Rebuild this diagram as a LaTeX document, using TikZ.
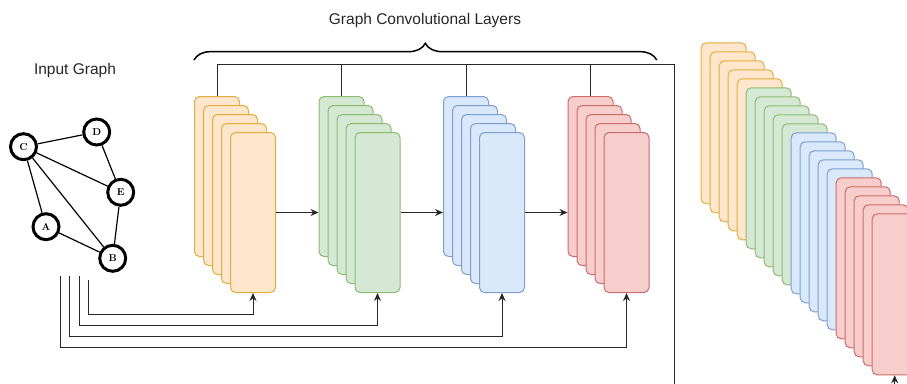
\documentclass[tikz,border=0pt]{standalone}
\usepackage{fontspec}
\setmainfont{Liberation Sans}
\newfontfamily\labelfont{Latin Modern Roman}
\usetikzlibrary{arrows.meta,decorations.pathreplacing,calc}

\definecolor{orFill}{HTML}{FFE6CC}\definecolor{orLine}{HTML}{E3AE3A}
\definecolor{grFill}{HTML}{D5E8D4}\definecolor{grLine}{HTML}{8CBB72}
\definecolor{blFill}{HTML}{DAE8FC}\definecolor{blLine}{HTML}{7E9FD0}
\definecolor{rdFill}{HTML}{F8CECC}\definecolor{rdLine}{HTML}{CC6C6A}

\tikzset{
  card/.style={draw, line width=1pt, rounded corners=5pt, anchor=north west,
    minimum width=45pt, minimum height=160pt, inner sep=0pt},
  orcard/.style={card, fill=orFill, draw=orLine},
  grcard/.style={card, fill=grFill, draw=grLine},
  blcard/.style={card, fill=blFill, draw=blLine},
  rdcard/.style={card, fill=rdFill, draw=rdLine},
  vertex/.style={circle, draw, line width=3pt, minimum size=26pt, inner sep=0pt,
    font=\labelfont\bfseries\fontsize{10}{10}\selectfont, fill=white},
  link/.style={line width=1.2pt},
  wire/.style={line width=1pt, draw=black!85},
  arr/.style={wire, -{Stealth[length=8pt,width=7pt]}},
  caption/.style={font=\fontsize{15.5}{18}\selectfont, text=black!85}
}

\begin{document}
\begin{tikzpicture}[x=1pt, y=-1pt]
\useasboundingbox (0,0) rectangle (907,383);
\clip (0,0) rectangle (907,383);

% titles
\node[caption] (title) at (425,20) {Graph Convolutional Layers};
\node[caption] (inlbl) at (75,70) {Input Graph};

% brace over the convolution stacks
\draw[line width=1.5pt, decorate, decoration={brace, amplitude=16.7pt}]
  (194,60) -- (656.7,60);

% input graph
\node[vertex] (C) at (23.5,146.7) {C};
\node[vertex] (D) at (96.7,132) {D};
\node[vertex] (E) at (120.7,192.3) {E};
\node[vertex] (A) at (46,226.7) {A};
\node[vertex] (B) at (112.7,258.3) {B};
\draw[link] (C) -- (D);
\draw[link] (C) -- (E);
\draw[link] (C) -- (A);
\draw[link] (C) -- (B);
\draw[link] (D) -- (E);
\draw[link] (E) -- (B);
\draw[link] (A) -- (B);

% convolution stacks (five cards each)
\foreach \i in {0,...,4} {
  \node[orcard] (o\i) at ({194+9*\i},{96+9*\i}) {};
}
\foreach \i in {0,...,4} {
  \node[grcard] (g\i) at ({318.5+9*\i},{96+9*\i}) {};
}
\foreach \i in {0,...,4} {
  \node[blcard] (b\i) at ({443+9*\i},{96+9*\i}) {};
}
\foreach \i in {0,...,4} {
  \node[rdcard] (r\i) at ({567.5+9*\i},{96+9*\i}) {};
}

% arrows between stacks
\draw[arr] (o4.east) -- (o4.east -| g0.west);
\draw[arr] (g4.east) -- (g4.east -| b0.west);
\draw[arr] (b4.east) -- (b4.east -| r0.west);

% concatenated output stack
\foreach \i/\s in {0/orcard,1/orcard,2/orcard,3/orcard,4/orcard,
                   5/grcard,6/grcard,7/grcard,8/grcard,9/grcard,
                   10/blcard,11/blcard,12/blcard,13/blcard,14/blcard,
                   15/rdcard,16/rdcard,17/rdcard,18/rdcard,19/rdcard} {
  \node[\s, minimum height=161pt] (k\i) at ({700.7+9*\i},{42.3+9*\i}) {};
}

% collector bus above the stacks
\coordinate (hub) at (674.5,64.3);
\coordinate (busEnd) at (674.5,400);
\draw[wire] (o0.north) |- (hub) -- (busEnd);
\draw[wire] (g0.north) -- (g0.north |- hub);
\draw[wire] (b0.north) -- (b0.north |- hub);
\draw[wire] (r0.north) -- (r0.north |- hub);
\coordinate (outIn) at ($(k19.south)+(0,30)$);
\draw[arr] (outIn) -- (k19.south);

% skip connections from the input graph
\coordinate (s1) at (88,279.5);
\coordinate (s2) at (79,276);
\coordinate (s3) at (69.5,276);
\coordinate (s4) at (60,276);
\draw[arr] (s1) -- (s1 |- 0,314) -| (o4.south);
\draw[arr] (s2) -- (s2 |- 0,325) -| (g4.south);
\draw[arr] (s3) -- (s3 |- 0,336.3) -| (b4.south);
\draw[arr] (s4) -- (s4 |- 0,347.4) -| (r4.south);
\end{tikzpicture}
\end{document}
